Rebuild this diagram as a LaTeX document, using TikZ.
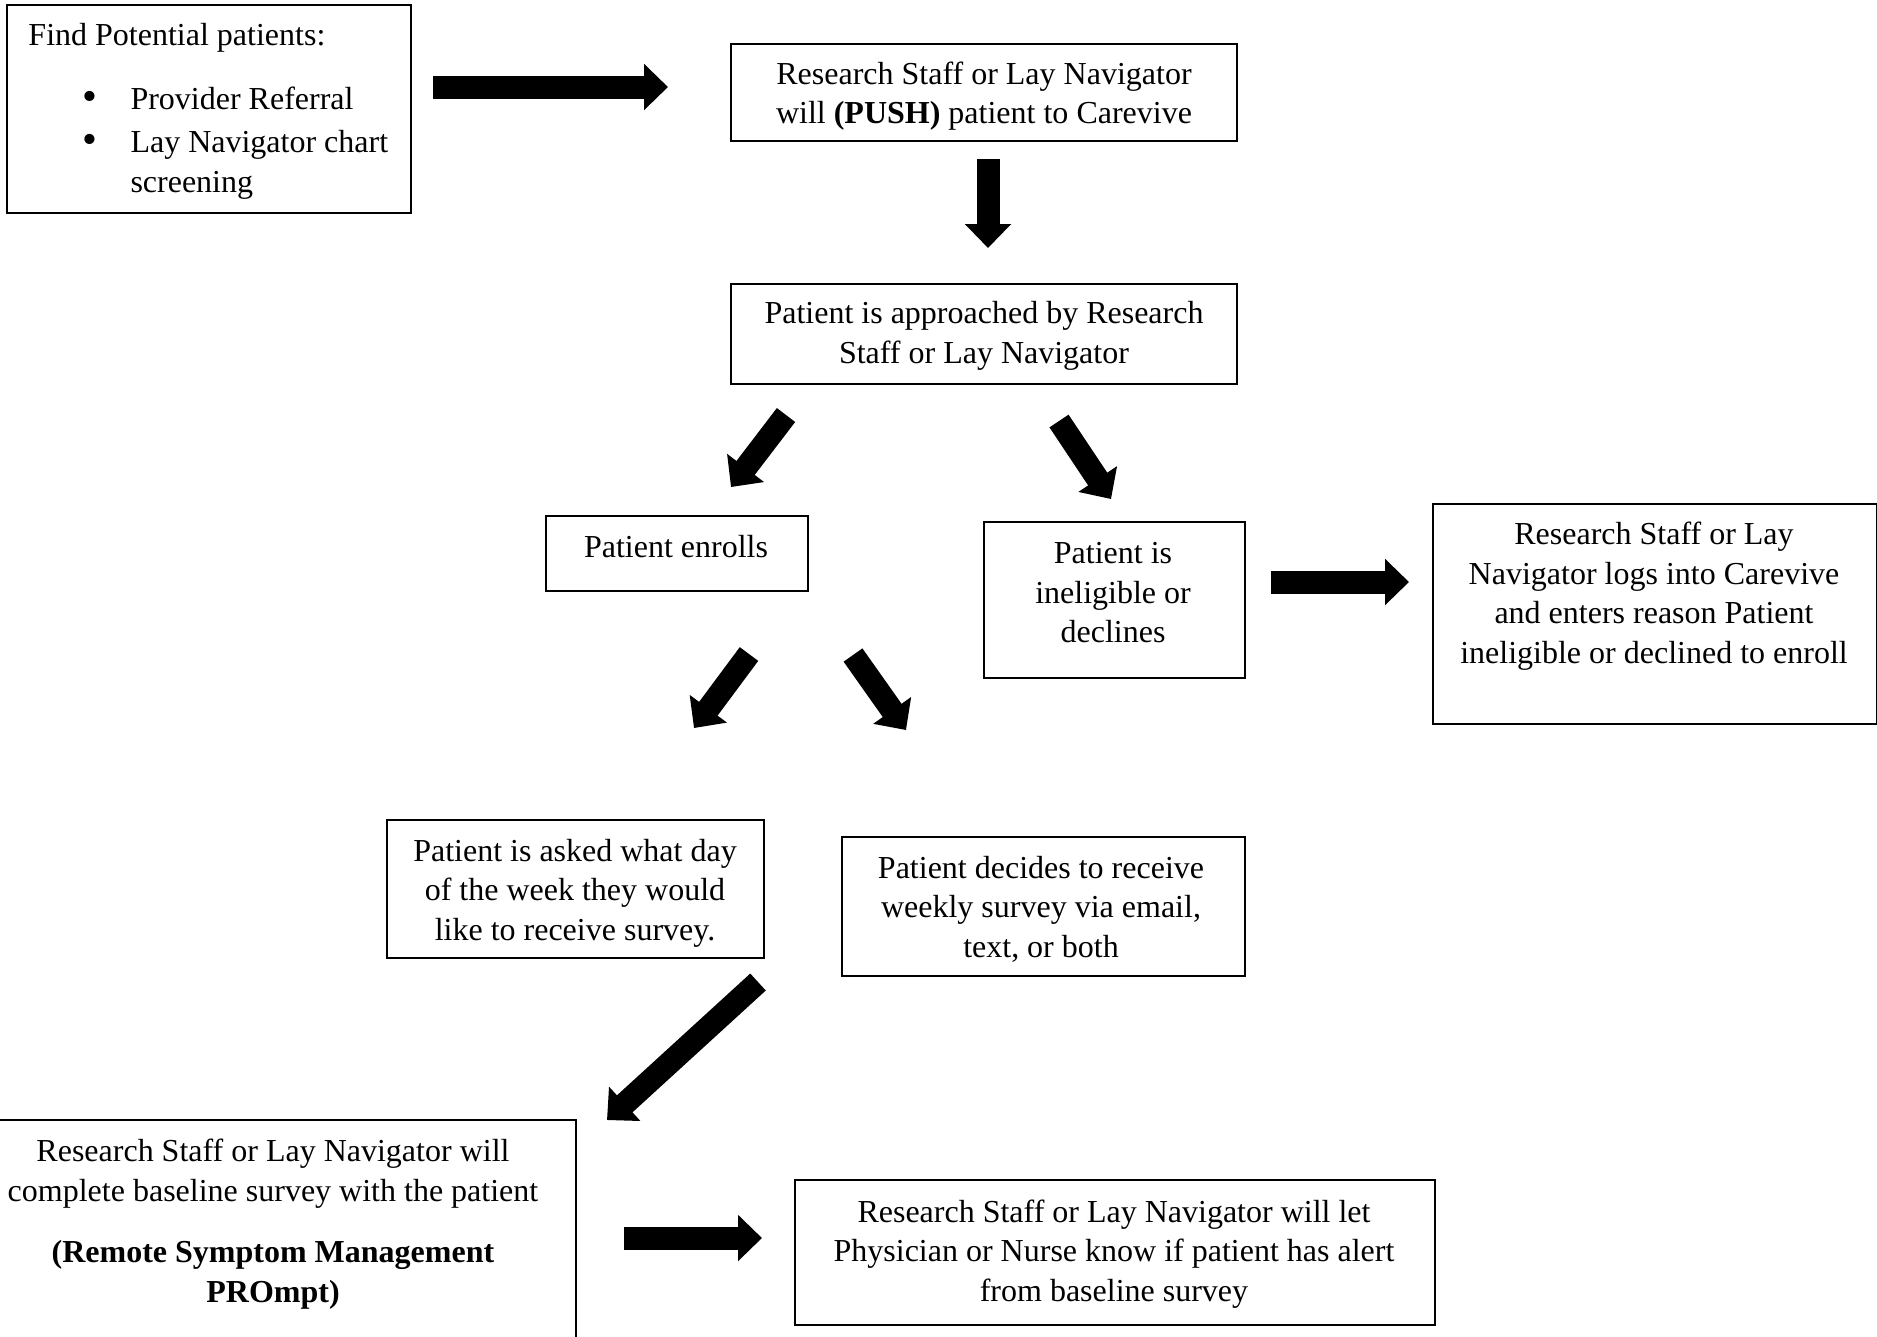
\documentclass[tikz,border=0pt]{standalone}
\usepackage{fontspec}
\setmainfont{Liberation Serif}
\usetikzlibrary{arrows.meta,fit}
\tikzset{
  boxnode/.style={draw=black, line width=0.5pt, inner sep=0pt},
  txt/.style={font=\fontsize{12.8}{15.8}\selectfont, align=center, inner sep=0pt},
  bullet/.style={font=\fontsize{17}{17}\selectfont, inner sep=0pt},
  blockarrow/.style={line width=9.2pt, -{Triangle[length=9.6pt,width=18pt]}},
}
\begin{document}
\begin{tikzpicture}[x=0.4pt,y=-0.4pt]
\useasboundingbox (0,0) rectangle (1877,1336);
% boxes
\node[boxnode, fit={(7,5) (411,213)}] (b1) {};
\node[boxnode, fit={(731,44) (1237,141)}] (b2) {};
\node[boxnode, fit={(731,284) (1237,384)}] (b3) {};
\node[boxnode, fit={(546,516) (808,591)}] (b4) {};
\node[boxnode, fit={(984,522) (1245,678)}] (b5) {};
\node[boxnode, fit={(1433,504) (1877,724)}] (b6) {};
\node[boxnode, fit={(387,820) (764,958)}] (b7) {};
\node[boxnode, fit={(842,837) (1245,976)}] (b8) {};
\node[boxnode, fit={(-10,1120) (576,1360)}] (b9) {};
\node[boxnode, fit={(795,1180) (1435,1325)}] (b10) {};
% texts
\node[txt, anchor=base west] (t1a) at (28,45) {Find Potential patients:};
\node[bullet, anchor=base] (t1b) at (90,110) {•};
\node[txt, anchor=base west] (t1c) at (130,109) {Provider Referral};
\node[bullet, anchor=base] (t1d) at (90,153) {•};
\node[txt, anchor=base west] (t1e) at (130,152) {Lay Navigator chart};
\node[txt, anchor=base west] (t1f) at (130,192) {screening};
\node[txt] (t2) at (984,96) {Research Staff or Lay Navigator\\will \textbf{(PUSH)} patient to Carevive};
\node[txt] (t3) at (984,336) {Patient is approached by Research\\Staff or Lay Navigator};
\node[txt] (t4) at (676,547) {Patient enrolls};
\node[txt] (t5) at (1113,593) {Patient is\\ineligible or\\declines};
\node[txt] (t6) at (1654,596) {Research Staff or Lay\\Navigator logs into Carevive\\and enters reason Patient\\ineligible or declined to enroll};
\node[txt] (t7) at (575,893) {Patient is asked what day\\of the week they would\\like to receive survey.};
\node[txt] (t8) at (1041,909) {Patient decides to receive\\weekly survey via email,\\text, or both};
\node[txt] (t9) at (273,1224) {Research Staff or Lay Navigator will\\complete baseline survey with the patient\\[8.8pt]\textbf{(Remote Symptom Management}\\\textbf{PROmpt)}};
\node[txt] (t10) at (1114,1254) {Research Staff or Lay Navigator will let\\Physician or Nurse know if patient has alert\\from baseline survey};
% arrow ends
\coordinate (a1s) at (433,87);  \coordinate (a1e) at (668,87);
\coordinate (a2s) at (988,159); \coordinate (a2e) at (988,248);
\coordinate (a3s) at (786,415); \coordinate (a3e) at (731,487);
\coordinate (a4s) at (1059,421); \coordinate (a4e) at (1111,499);
\coordinate (a5s) at (1271,582); \coordinate (a5e) at (1409,582);
\coordinate (a6s) at (749,654); \coordinate (a6e) at (694,728);
\coordinate (a7s) at (853,655); \coordinate (a7e) at (906,730);
\coordinate (a8s) at (758,982); \coordinate (a8e) at (607,1120);
\coordinate (a9s) at (624,1238); \coordinate (a9e) at (762,1238);
\draw[blockarrow] (a1s) -- (a1e);
\draw[blockarrow] (a2s) -- (a2e);
\draw[blockarrow] (a3s) -- (a3e);
\draw[blockarrow] (a4s) -- (a4e);
\draw[blockarrow] (a5s) -- (a5e);
\draw[blockarrow] (a6s) -- (a6e);
\draw[blockarrow] (a7s) -- (a7e);
\draw[blockarrow] (a8s) -- (a8e);
\draw[blockarrow] (a9s) -- (a9e);
\end{tikzpicture}
\end{document}
